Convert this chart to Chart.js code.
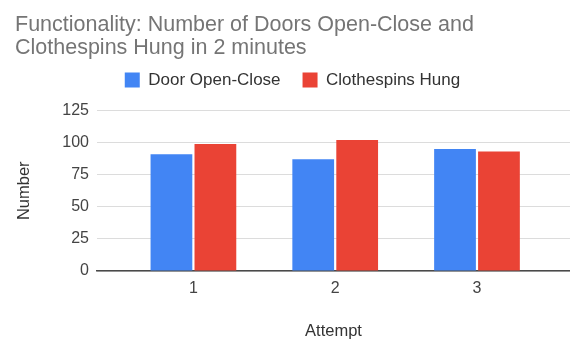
<!DOCTYPE html>
<html>
<head>
<meta charset="utf-8">
<script src="https://cdn.jsdelivr.net/npm/chart.js@4/dist/chart.umd.min.js"></script>
<style>
  html, body { margin: 0; padding: 0; background: #ffffff; }
  #wrap { width: 570px; height: 341px; position: relative; }
</style>
</head>
<body>
<div id="wrap"><canvas id="c" width="570" height="341"></canvas></div>
<script>
// Attempts and counts per attempt
const attempts = [1, 2, 3];
const doorOpenClose = [91, 87, 95];
const clothespinsHung = [99, 102, 93];
const yTicks = [0, 25, 50, 75, 100, 125];

const FONT = "'Liberation Sans', Arial, sans-serif";

const toPoints = (vals) => attempts.map((a, i) => ({ x: a, y: vals[i] }));

// Adds extra space below the legend before the plot area starts
const legendGap = {
  id: 'legendGap',
  beforeLayout(chart) {
    const lg = chart.legend;
    if (lg && !lg._gapWrapped) {
      const fit = lg.fit;
      lg.fit = function () { fit.call(this); this.height += 12; };
      lg._gapWrapped = true;
    }
  }
};

new Chart(document.getElementById('c'), {
  type: 'bar',
  data: {
    datasets: [
      {
        label: 'Door Open-Close',
        data: toPoints(doorOpenClose),
        backgroundColor: '#4285F4',
        categoryPercentage: 0.62,
        barPercentage: 0.95
      },
      {
        label: 'Clothespins Hung',
        data: toPoints(clothespinsHung),
        backgroundColor: '#EA4335',
        categoryPercentage: 0.62,
        barPercentage: 0.95
      }
    ]
  },
  plugins: [legendGap],
  options: {
    responsive: false,
    animation: false,
    devicePixelRatio: 1,
    layout: { padding: { left: 15, right: 0, top: 13.5, bottom: 0 } },
    plugins: {
      title: {
        display: true,
        text: ['Functionality: Number of Doors Open-Close and', 'Clothespins Hung in 2 minutes'],
        align: 'start',
        color: '#757575',
        font: { family: FONT, size: 21.5, weight: 'normal', lineHeight: 1.07 },
        padding: { top: 0, bottom: -10 }
      },
      legend: {
        display: true,
        position: 'top',
        labels: {
          boxWidth: 15,
          boxHeight: 15,
          padding: 22,
          color: '#333333',
          font: { family: FONT, size: 17 }
        }
      },
      tooltip: { enabled: false }
    },
    scales: {
      x: {
        type: 'linear',
        offset: false,
        min: 0.32,
        max: 3.656,
        afterBuildTicks: (scale) => { scale.ticks = attempts.map(v => ({ value: v })); },
        afterFit: (scale) => { scale.height = 70; },
        grid: { display: false, drawTicks: false },
        border: { display: true, color: '#4a4a4a', width: 1.5 },
        ticks: {
          color: '#444444',
          padding: 8,
          font: { family: FONT, size: 16 },
          callback: (v) => String(v)
        },
        title: {
          display: true,
          text: 'Attempt',
          color: '#333333',
          font: { family: FONT, size: 16.5 },
          padding: { top: 0, bottom: 0 }
        }
      },
      y: {
        min: 0,
        max: 125,
        afterBuildTicks: (scale) => { scale.ticks = yTicks.map(v => ({ value: v })); },
        afterFit: (scale) => { scale.width = 82; },
        grid: { color: '#dcdcdc', lineWidth: 1, drawTicks: false },
        border: { display: false },
        ticks: {
          color: '#444444',
          padding: 8,
          font: { family: FONT, size: 16 }
        },
        title: {
          display: true,
          text: 'Number',
          color: '#333333',
          font: { family: FONT, size: 16.5 },
          padding: { top: 0, bottom: 0 }
        }
      }
    }
  }
});
</script>
</body>
</html>
